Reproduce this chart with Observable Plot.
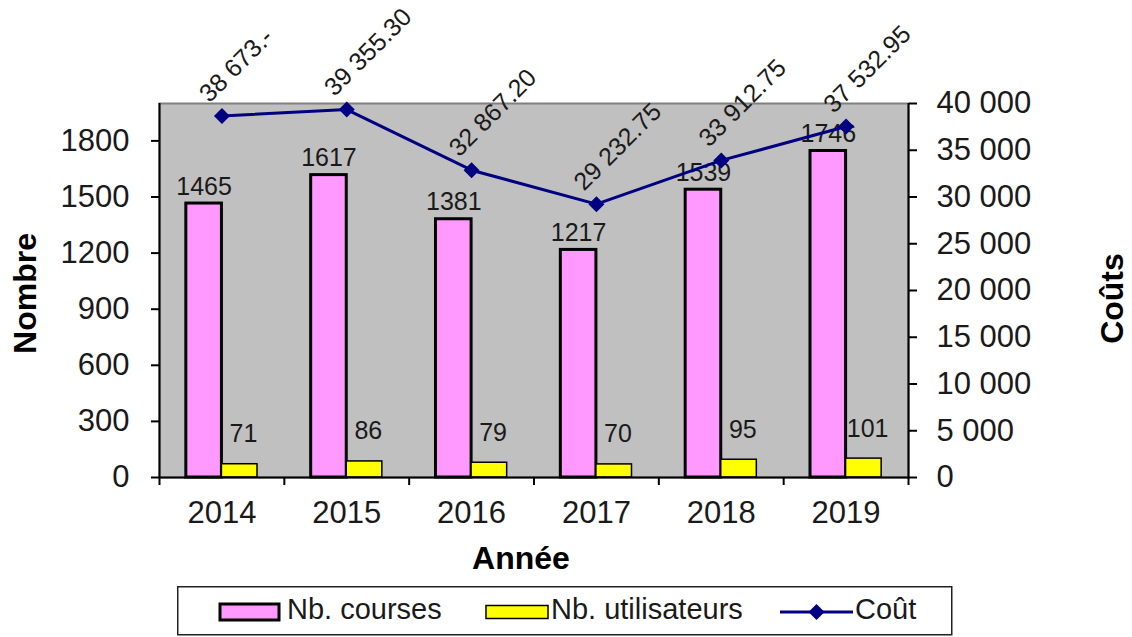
<!DOCTYPE html>
<html><head><meta charset="utf-8">
<script src="https://cdn.jsdelivr.net/npm/d3@7"></script>
<script src="https://cdn.jsdelivr.net/npm/@observablehq/plot@0.6"></script>
<style>
body{margin:0;background:#fff;font-family:"Liberation Sans",Arial,sans-serif;}
#chart{position:absolute;left:0;top:0;}
#legend{position:absolute;left:177px;top:586px;}
</style></head><body>
<div id="chart"></div>
<div id="legend"></div>
<script>
const years = ["2014", "2015", "2016", "2017", "2018", "2019"];
const courses = [1465, 1617, 1381, 1217, 1539, 1746];
const utilisateurs = [71, 86, 79, 70, 95, 101];
const couts = [38673, 39355.30, 32867.20, 29232.75, 33912.75, 37532.95];
const leftTicks = [0, 300, 600, 900, 1200, 1500, 1800];
const rightTicks = [0, 5000, 10000, 15000, 20000, 25000, 30000, 35000, 40000];
const leftMax = 2000;
const rightMax = 40000;
const seriesNames = ["Nb. courses", "Nb. utilisateurs", "Coût"];

const toLeft = v => v * leftMax / rightMax;
const toRight = v => Math.round(v * rightMax / leftMax);
const spaceFmt = v => d3.format(",")(v).replace(/,/g, " ");
const costFmt = v => d3.format(",.2f")(v).replace(/,/g, " ").replace(/\.00$/, ".-");

const rows = years.map((y, i) => ({i, year: y, courses: courses[i], users: utilisateurs[i], cost: couts[i]}));
const W = 0.285;
const bounds = d3.range(years.length + 1).map(k => k - 0.5);
const ink = "#1a1a1a";
const tickFont = 31;

const chart = Plot.plot({
  width: 1132,
  height: 582,
  marginLeft: 159,
  marginRight: 224,
  marginTop: 103,
  marginBottom: 105,
  style: {fontFamily: "'Liberation Sans', Arial, sans-serif", fontSize: "28px", color: ink, background: "transparent"},
  x: {type: "linear", domain: [-0.5, years.length - 0.5]},
  y: {domain: [0, leftMax]},
  marks: [
    Plot.frame({fill: "#c0c0c0", stroke: "#808080", strokeWidth: 2}),
    Plot.rect(rows, {x1: d => d.i - W, x2: d => d.i, y1: 0, y2: "courses", fill: "#ff99ff", stroke: "#000", strokeWidth: 3}),
    Plot.rect(rows, {x1: d => d.i, x2: d => d.i + W, y1: 0, y2: "users", fill: "#ffff00", stroke: "#000", strokeWidth: 1.5}),
    Plot.ruleX([-0.5, years.length - 0.5], {stroke: "#000", strokeWidth: 2}),
    Plot.ruleY([0], {stroke: "#000", strokeWidth: 2}),
    Plot.axisY({anchor: "left", ticks: leftTicks, tickFormat: d => String(d), tickSize: 8, tickPadding: 22, fontSize: tickFont, label: null, stroke: "#000", strokeWidth: 2}),
    Plot.axisY({anchor: "right", ticks: rightTicks.map(toLeft), tickFormat: d => spaceFmt(toRight(d)), tickSize: 8, tickPadding: 20, fontSize: tickFont, label: null, stroke: "#000", strokeWidth: 2}),
    Plot.axisX({ticks: bounds, tickFormat: () => "", tickSize: 8, label: null, stroke: "#000", strokeWidth: 2}),
    Plot.axisX({ticks: d3.range(years.length), tickFormat: d => years[d], tickSize: 0, tickPadding: 23, fontSize: tickFont, label: null}),
    Plot.text(rows, {x: d => d.i - W / 2, y: "courses", text: d => String(d.courses), dy: -17, fontSize: 25, fill: ink}),
    Plot.text(rows, {x: d => d.i + W / 2 + 0.03, y: "users", text: d => String(d.users), dy: -30, fontSize: 25, fill: ink}),
    Plot.line(rows, {x: "i", y: d => toLeft(d.cost), stroke: "#000080", strokeWidth: 3}),
    Plot.dot(rows, {x: "i", y: d => toLeft(d.cost), symbol: "diamond2", r: 7.2, fill: "#000080", stroke: "none"}),
    Plot.text(rows, {x: "i", y: d => toLeft(d.cost), text: d => costFmt(d.cost), rotate: -45, textAnchor: "start", dx: -18, dy: -18, fontSize: 25, fill: ink}),
    Plot.text(["Nombre"], {frameAnchor: "left", textAnchor: "middle", lineAnchor: "middle", dx: -134, dy: 3, rotate: -90, fontWeight: "bold", fontSize: 32, fill: "#000"}),
    Plot.text(["Coûts"], {frameAnchor: "right", textAnchor: "middle", lineAnchor: "middle", dx: 204, dy: 8, rotate: -90, fontWeight: "bold", fontSize: 32, fill: "#000"}),
    Plot.text(["Année"], {frameAnchor: "bottom", textAnchor: "middle", lineAnchor: "middle", dx: -13, dy: 81, fontWeight: "bold", fontSize: 32, fill: "#000"})
  ]
});
document.getElementById("chart").append(chart);

// legend below the plot
const lg = d3.select("#legend").append("svg").attr("width", 776).attr("height", 50)
  .style("font-family", "'Liberation Sans', Arial, sans-serif");
lg.append("rect").attr("x", 0.75).attr("y", 0.75).attr("width", 774).attr("height", 48)
  .attr("fill", "#fff").attr("stroke", "#222").attr("stroke-width", 1.5);
lg.append("rect").attr("x", 43).attr("y", 18).attr("width", 59).attr("height", 16)
  .attr("fill", "#ff99ff").attr("stroke", "#000").attr("stroke-width", 3);
lg.append("rect").attr("x", 309).attr("y", 19.5).attr("width", 62).attr("height", 13)
  .attr("fill", "#ffff00").attr("stroke", "#000").attr("stroke-width", 1.5);
lg.append("line").attr("x1", 603).attr("x2", 676).attr("y1", 26).attr("y2", 26)
  .attr("stroke", "#000080").attr("stroke-width", 3);
lg.append("path").attr("d", "M639.5,18 L647.5,26 L639.5,34 L631.5,26 Z").attr("fill", "#000080");
const textX = [110, 374, 678];
seriesNames.forEach((name, k) => {
  lg.append("text").attr("x", textX[k]).attr("y", 33).attr("font-size", 29).attr("fill", ink).text(name);
});
</script>
</body></html>
